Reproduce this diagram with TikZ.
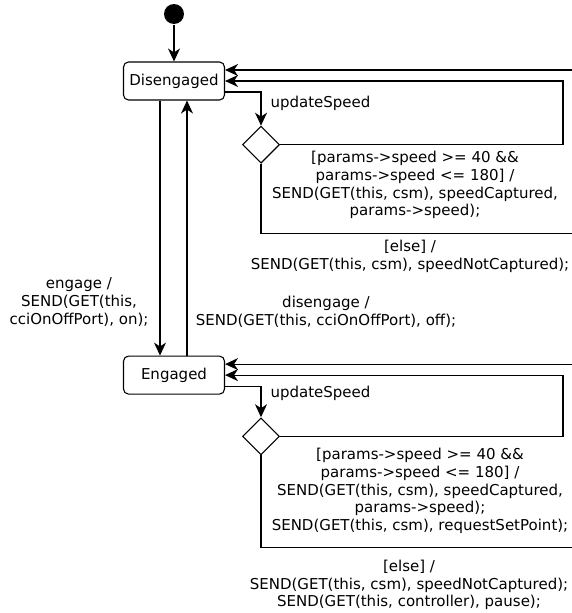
\documentclass[tikz,border=0pt]{standalone}
\usepackage{fontspec}
\setmainfont{DejaVu Sans}
\usetikzlibrary{positioning,shapes.geometric,arrows.meta}

\begin{document}
\begin{tikzpicture}[x=1pt, y=-1pt, line width=1.1pt,
        font=\fontsize{15}{17.8}\selectfont,
        statenode/.style={rectangle, draw, rounded corners=5pt, minimum width=101pt, minimum height=38pt},
        choicenode/.style={diamond, draw, minimum size=37pt, inner sep=0pt},
        initnode/.style={circle, fill, minimum size=20pt, inner sep=0pt},
        labelnode/.style={align=center, inner sep=0pt},
        arr/.style={-{Stealth[length=13pt, width=12pt, inset=4pt]}}]

        \useasboundingbox (0,0) rectangle (572,613);

        % states
        \node[initnode] (init) at (174,14) {};
        \node[statenode] (dis) at (174,81) {Disengaged};
        \node[statenode] (eng) [below=255pt of dis] {Engaged};
        \node[choicenode] (ch1) at (261,144.7) {};
        \node[choicenode] (ch2) at (261,436.3) {};

        % transitions
        \draw[arr] (init) -- (dis);
        \draw[arr] ([yshift=-11pt]dis.east) -| (ch1.north);
        \draw[arr] (ch1.east) -- (563,144.7) |- (dis.east);
        \draw[arr] (ch1.south) |- (576,233.3) |- ([yshift=11pt]dis.east);
        \draw[arr] ([xshift=-14pt]dis.south) -- ([xshift=-14pt]eng.north);
        \draw[arr] ([xshift=13pt]eng.north) -- ([xshift=13pt]dis.south);
        \draw[arr] ([yshift=-11pt]eng.east) -| (ch2.north);
        \draw[arr] (ch2.east) -- (563,436.3) |- (eng.east);
        \draw[arr] (ch2.south) |- (576,547.3) |- ([yshift=11pt]eng.east);

        % labels
        \node[labelnode, anchor=west] (up1) at (270,103) {updateSpeed};
        \node[labelnode] (g1) at (415,185) {[params->speed >= 40 \&\&\\params->speed <= 180] /\\SEND(GET(this, csm), speedCaptured,\\params->speed);};
        \node[labelnode] (e1) at (410,256.5) {[else] /\\SEND(GET(this, csm), speedNotCaptured);};
        \node[labelnode] (on) at (79,302) {engage /\\SEND(GET(this,\\cciOnOffPort), on);};
        \node[labelnode] (off) at (326,311.5) {disengage /\\SEND(GET(this, cciOnOffPort), off);};
        \node[labelnode, anchor=west] (up2) at (270,393.5) {updateSpeed};
        \node[labelnode] (g2) at (420,491) {[params->speed >= 40 \&\&\\params->speed <= 180] /\\SEND(GET(this, csm), speedCaptured,\\params->speed);\\SEND(GET(this, csm), requestSetPoint);};
        \node[labelnode] (e2) at (409,585) {[else] /\\SEND(GET(this, csm), speedNotCaptured);\\SEND(GET(this, controller), pause);};

\end{tikzpicture}
\end{document}
